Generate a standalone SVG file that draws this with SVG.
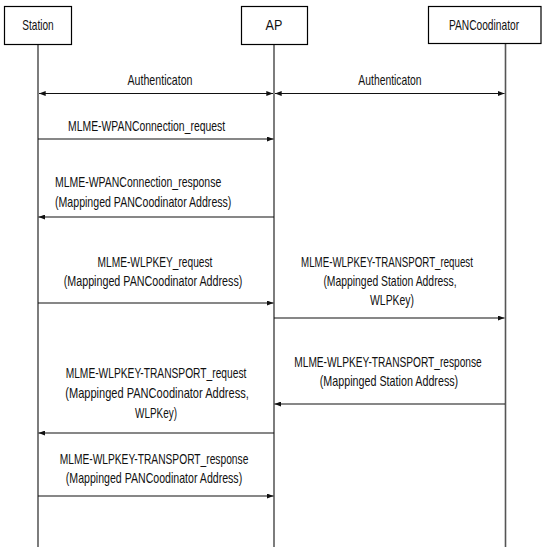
<svg xmlns="http://www.w3.org/2000/svg" width="542" height="547" viewBox="0 0 542 547">
<style>
.box{fill:#fff;stroke:#000;stroke-width:1.2}
.life{stroke:#111;stroke-width:1.1}
.life2{stroke:#555;stroke-width:1.6}
.msg{stroke:#111;stroke-width:1.2;fill:none}
text{font-family:"Liberation Sans",Arial,sans-serif;font-size:14px;fill:#111}
.c{text-anchor:middle}
</style>
<defs>
<marker id="ah" viewBox="0 0 8 6" refX="8" refY="3" markerWidth="7" markerHeight="5" markerUnits="userSpaceOnUse" orient="auto-start-reverse">
<path d="M0,0 L8,3 L0,6 z" fill="#111"/>
</marker>
</defs>
<rect width="542" height="547" fill="#fff"/>
<g id="lifelines">
<line class="life" x1="38" y1="45" x2="38" y2="547"/>
<line class="life" x1="274" y1="45" x2="274" y2="547"/>
<line class="life2" x1="505.5" y1="44" x2="505.5" y2="547"/>
</g>
<g id="station"><rect class="box" x="4.5" y="6.5" width="67" height="38"/><text class="c" transform="translate(38,30) scale(0.72,1)">Station</text></g>
<g id="ap"><rect class="box" x="241.5" y="6.5" width="66" height="38"/><text class="c" transform="translate(274,30) scale(0.9,1)">AP</text></g>
<g id="pan"><rect class="box" x="428.5" y="6.5" width="112.5" height="37"/><text class="c" transform="translate(484,30) scale(0.73,1)">PANCoodinator</text></g>
<g id="connectors">
<line class="msg" x1="39" y1="93.5" x2="273" y2="93.5" marker-start="url(#ah)" marker-end="url(#ah)"/>
<line class="msg" x1="275" y1="93.5" x2="504.5" y2="93.5" marker-start="url(#ah)" marker-end="url(#ah)"/>
<line class="msg" x1="38" y1="139" x2="273.5" y2="139" marker-end="url(#ah)"/>
<line class="msg" x1="274" y1="217" x2="38.5" y2="217" marker-end="url(#ah)"/>
<line class="msg" x1="38" y1="303" x2="273.5" y2="303" marker-end="url(#ah)"/>
<line class="msg" x1="274" y1="318" x2="504.5" y2="318" marker-end="url(#ah)"/>
<line class="msg" x1="505" y1="404" x2="274.5" y2="404" marker-end="url(#ah)"/>
<line class="msg" x1="274" y1="433" x2="38.5" y2="433" marker-end="url(#ah)"/>
<line class="msg" x1="38" y1="496" x2="273.5" y2="496" marker-end="url(#ah)"/>
</g>
<g id="labels">
<text class="c" transform="translate(160,85) scale(0.76,1)">Authenticaton</text>
<text class="c" transform="translate(390,85) scale(0.74,1)">Authenticaton</text>
<text transform="translate(68,131) scale(0.744,1)">MLME-WPANConnection_request</text>
<text transform="translate(55,187) scale(0.748,1)">MLME-WPANConnection_response</text>
<text transform="translate(55,206.5) scale(0.757,1)">(Mappinged PANCoodinator Address)</text>
<text class="c" transform="translate(155,266.5) scale(0.728,1)">MLME-WLPKEY_request</text>
<text class="c" transform="translate(153,286) scale(0.766,1)">(Mappinged PANCoodinator Address)</text>
<text class="c" transform="translate(387,266.5) scale(0.695,1)">MLME-WLPKEY-TRANSPORT_request</text>
<text class="c" transform="translate(390,286) scale(0.742,1)">(Mappinged Station Address,</text>
<text class="c" transform="translate(392,305) scale(0.744,1)">WLPKey)</text>
<text class="c" transform="translate(388,366.5) scale(0.727,1)">MLME-WLPKEY-TRANSPORT_response</text>
<text class="c" transform="translate(389,386) scale(0.767,1)">(Mappinged Station Address)</text>
<text class="c" transform="translate(156,377.5) scale(0.731,1)">MLME-WLPKEY-TRANSPORT_request</text>
<text class="c" transform="translate(157,397.5) scale(0.79,1)">(Mappinged PANCoodinator Address,</text>
<text class="c" transform="translate(156,417.5) scale(0.71,1)">WLPKey)</text>
<text class="c" transform="translate(154,463.5) scale(0.731,1)">MLME-WLPKEY-TRANSPORT_response</text>
<text class="c" transform="translate(154,483) scale(0.757,1)">(Mappinged PANCoodinator Address)</text>
</g>
</svg>
